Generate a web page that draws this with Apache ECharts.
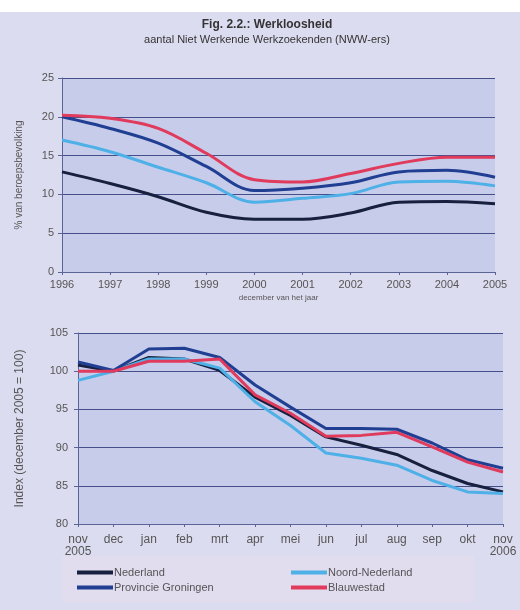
<!DOCTYPE html>
<html lang="en">
<head>
    <meta charset="UTF-8">
    <title>Werkloosheid</title>
    <style>
        body { margin: 0; background: #fff; }
        #container { width: 520px; height: 610px; }
    </style>
</head>
<body>
    <div id="container"></div>
    <script src="https://cdn.jsdelivr.net/npm/echarts@6/dist/echarts.min.js"></script>
    <script>
        // top chart: % of working population, december of each year
        var years = ['1996', '1997', '1998', '1999', '2000', '2001', '2002', '2003', '2004', '2005'];
        var yrNederland = [12.9, 11.4, 9.7, 7.7, 6.8, 6.8, 7.6, 9.0, 9.1, 8.8];
        var yrNoordNL = [17.0, 15.5, 13.5, 11.5, 9.0, 9.5, 10.1, 11.6, 11.7, 11.1];
        var yrGroningen = [20.0, 18.5, 16.6, 13.6, 10.5, 10.8, 11.5, 12.9, 13.1, 12.2];
        var yrBlauwestad = [20.2, 19.8, 18.5, 15.3, 11.9, 11.6, 12.7, 14.0, 14.8, 14.8];

        // bottom chart: index, december 2005 = 100
        var months = ['nov\n2005', 'dec', 'jan', 'feb', 'mrt', 'apr', 'mei', 'jun', 'jul', 'aug', 'sep', 'okt', 'nov\n2006'];
        var mNederland = [100.8, 100, 101.8, 101.6, 100.1, 96.6, 94.2, 91.4, 90.3, 89.1, 87.0, 85.3, 84.2];
        var mNoordNL = [98.8, 100, 101.6, 101.6, 100.4, 96.0, 92.9, 89.3, 88.6, 87.7, 85.7, 84.2, 84.0];
        var mGroningen = [101.2, 100.1, 102.9, 103.0, 101.8, 98.2, 95.3, 92.5, 92.5, 92.4, 90.6, 88.4, 87.3];
        var mBlauwestad = [100, 100, 101.3, 101.3, 101.6, 96.9, 94.5, 91.5, 91.6, 92.0, 90.1, 88.1, 86.8];

        var names = ['Nederland', 'Noord-Nederland', 'Provincie Groningen', 'Blauwestad'];
        var colors = ['#17203f', '#4db0e6', '#203f92', '#e03a5c'];

        var ec = echarts.init(document.getElementById('container'));
        var font = 'Liberation Sans, Arial, sans-serif';
        var gridLine = { lineStyle: { color: '#45508a', width: 1 } };
        var axisLine = { lineStyle: { color: '#5a6496', width: 1 } };
        var label = { color: '#555', fontFamily: font, fontSize: 11 };

        function lineSeries(name, data, idx, smooth) {
            return {
                name: name,
                type: 'line',
                xAxisIndex: idx,
                yAxisIndex: idx,
                data: data,
                smooth: smooth,
                symbol: 'none',
                lineStyle: { width: 3, color: colors[names.indexOf(name)] },
                itemStyle: { color: colors[names.indexOf(name)] }
            };
        }

        var option = {
            backgroundColor: '#fff',
            animation: false,
            color: colors,
            graphic: [
                { type: 'rect', left: 0, top: 12, z: -10,
                  shape: { width: 520, height: 598 }, style: { fill: '#dcdcf0' } },
                { type: 'rect', left: 62, top: 556, z: -9,
                  shape: { width: 412, height: 46 }, style: { fill: '#e2dcef' } }
            ],
            title: {
                text: 'Fig. 2.2.: Werkloosheid',
                subtext: 'aantal Niet Werkende Werkzoekenden (NWW-ers)',
                left: 262,
                textAlign: 'center',
                top: 14,
                itemGap: 3,
                textStyle: { fontFamily: font, fontSize: 12, fontWeight: 'bold', color: '#333' },
                subtextStyle: { fontFamily: font, fontSize: 11, color: '#333' }
            },
            legend: [{
                data: ['Nederland', 'Provincie Groningen'],
                orient: 'vertical',
                left: 72,
                top: 562,
                itemGap: 4,
                itemWidth: 36,
                itemHeight: 4,
                icon: 'rect',
                textStyle: { color: '#555', fontFamily: font, fontSize: 11, padding: [0, 0, 0, -4] }
            }, {
                data: ['Noord-Nederland', 'Blauwestad'],
                orient: 'vertical',
                left: 286,
                top: 562,
                itemGap: 4,
                itemWidth: 36,
                itemHeight: 4,
                icon: 'rect',
                textStyle: { color: '#555', fontFamily: font, fontSize: 11, padding: [0, 0, 0, -4] }
            }],
            grid: [
                { left: 62, top: 78, width: 433, height: 194, show: true,
                  backgroundColor: '#c7cceb', borderWidth: 0 },
                { left: 78, top: 333, width: 425, height: 191, show: true,
                  backgroundColor: '#c7cceb', borderWidth: 0 }
            ],
            xAxis: [{
                type: 'category', gridIndex: 0, data: years, boundaryGap: false,
                axisLine: axisLine, axisTick: { show: true, length: 3, lineStyle: axisLine.lineStyle },
                axisLabel: Object.assign({ margin: 7 }, label),
                name: 'december van het jaar', nameLocation: 'middle', nameGap: 22,
                nameTextStyle: { color: '#555', fontFamily: font, fontSize: 8 }
            }, {
                type: 'category', gridIndex: 1, data: months, boundaryGap: false,
                axisLine: axisLine, axisTick: { show: true, length: 3, lineStyle: axisLine.lineStyle },
                axisLabel: Object.assign({ margin: 10, lineHeight: 12, interval: 0 }, label, { fontSize: 12 })
            }],
            yAxis: [{
                type: 'value', gridIndex: 0, min: 0, max: 25, interval: 5,
                axisLine: { show: true, lineStyle: axisLine.lineStyle },
                axisTick: { show: true, length: 4, lineStyle: axisLine.lineStyle },
                splitLine: gridLine,
                axisLabel: Object.assign({ margin: 8 }, label),
                name: '% van beroepsbevolking', nameLocation: 'middle', nameGap: 38,
                nameTextStyle: { color: '#555', fontFamily: font, fontSize: 10 }
            }, {
                type: 'value', gridIndex: 1, min: 80, max: 105, interval: 5,
                axisLine: { show: true, lineStyle: axisLine.lineStyle },
                axisTick: { show: true, length: 4, lineStyle: axisLine.lineStyle },
                splitLine: gridLine,
                axisLabel: Object.assign({ margin: 10 }, label),
                name: 'Index (december 2005 = 100)', nameLocation: 'middle', nameGap: 52,
                nameTextStyle: { color: '#555', fontFamily: font, fontSize: 12 }
            }],
            series: [
                lineSeries('Nederland', yrNederland, 0, 0.35),
                lineSeries('Noord-Nederland', yrNoordNL, 0, 0.35),
                lineSeries('Provincie Groningen', yrGroningen, 0, 0.35),
                lineSeries('Blauwestad', yrBlauwestad, 0, 0.35),
                lineSeries('Nederland', mNederland, 1, false),
                lineSeries('Noord-Nederland', mNoordNL, 1, false),
                lineSeries('Provincie Groningen', mGroningen, 1, false),
                lineSeries('Blauwestad', mBlauwestad, 1, false)
            ]
        };
        ec.setOption(option);
    </script>
</body>
</html>
